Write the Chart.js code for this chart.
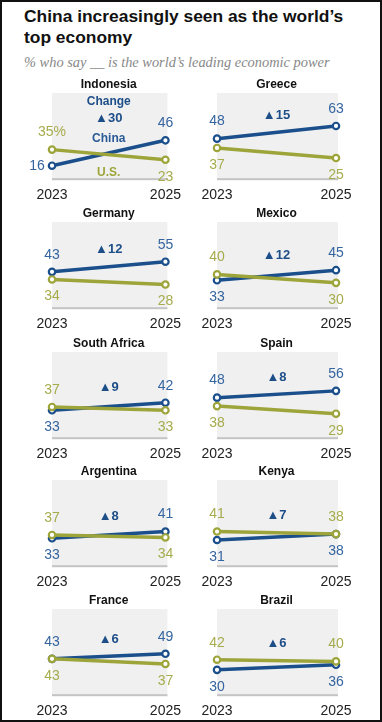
<!DOCTYPE html>
<html>
<head>
<meta charset="utf-8">
<script src="https://cdn.jsdelivr.net/npm/chart.js@4/dist/chart.umd.min.js"></script>
<style>
  html, body { margin: 0; padding: 0; background: #fff; }
  #page { position: relative; width: 382px; height: 722px; box-sizing: border-box; border: 2px solid #111; overflow: hidden; background: #fff; }
  #title { position: absolute; left: 22px; top: 4px; width: 332px; font: bold 17.4px "Liberation Sans", Arial, sans-serif; line-height: 21px; color: #111; }
  #subtitle { position: absolute; left: 22px; top: 52px; font: italic 14.4px "Liberation Serif", Georgia, serif; color: #888; white-space: nowrap; }
  canvas.panel { position: absolute; }
</style>
</head>
<body>
<div id="page">
  <div id="title">China increasingly seen as the world’s top economy</div>
  <div id="subtitle">% who say __ is the world’s leading economic power</div>
</div>
<script>
// ---- data ----
const years = ['2023', '2025'];
const countries = ['Indonesia', 'Greece', 'Germany', 'Mexico', 'South Africa', 'Spain', 'Argentina', 'Kenya', 'France', 'Brazil'];
const china2023 = [16, 48, 43, 33, 33, 48, 33, 31, 43, 30];
const china2025 = [46, 63, 55, 45, 42, 56, 41, 38, 49, 36];
const us2023 = [35, 37, 34, 40, 37, 38, 37, 41, 43, 42];
const us2025 = [23, 25, 28, 30, 33, 29, 34, 38, 37, 40];
const changes = [30, 15, 12, 12, 9, 8, 8, 7, 6, 6];

// ---- style ----
const BLUE = '#1b4f8c', OLIVE = '#9da53a';
const BLUE_TXT = '#3565a0', OLIVE_TXT = '#a6ac4c';
const FONT = '"Liberation Sans", Arial, sans-serif';
const rowTops = [93, 222, 352, 480, 609];
const PANEL_H = 141, TOP_PAD = 22;

const page = document.getElementById('page');

const decor = {
  id: 'decor',
  beforeDatasetsDraw(chart) {
    const { ctx, chartArea: a } = chart;
    ctx.save();
    ctx.fillStyle = '#f0f0f0';
    ctx.fillRect(a.left, a.top, a.right - a.left + 2, a.bottom - a.top);
    ctx.fillStyle = '#c4c4c4';
    ctx.fillRect(a.left, a.bottom - 1, a.right - a.left + 2, 2);
    ctx.restore();
  },
  afterDatasetsDraw(chart) {
    const { ctx, chartArea: a } = chart;
    const i = chart.options.plugins.decor.index;
    const ys = chart.scales.y, xs = chart.scales.x;
    const cx = (a.left + a.right) / 2;
    ctx.save();
    // panel title
    ctx.font = 'bold 12px ' + FONT;
    ctx.fillStyle = '#111';
    ctx.textAlign = 'center';
    ctx.textBaseline = 'middle';
    ctx.fillText(countries[i], cx, a.top - 8);

    // value labels
    const ch = [china2023[i], china2025[i]];
    const us = [us2023[i], us2025[i]];
    const aboveY = [];
    ctx.font = '14px ' + FONT;
    for (let j = 0; j < 2; j++) {
      let chinaAbove;
      if (ch[j] !== us[j]) chinaAbove = ch[j] > us[j];
      else chinaAbove = j === 0 ? ch[1] >= us[1] : ch[0] > us[0];
      const x = xs.getPixelForValue(j);
      const entries = [
        { v: ch[j], above: chinaAbove, color: BLUE_TXT, series: 'china' },
        { v: us[j], above: !chinaAbove, color: OLIVE_TXT, series: 'us' }
      ];
      for (const e of entries) {
        const py = ys.getPixelForValue(e.v);
        let tx = x, ty = e.above ? py - 17 : py + 17;
        let txt = String(e.v);
        if (i === 0 && j === 0 && e.series === 'china') { tx = x - 15; ty = py; }
        if (i === 0 && j === 0 && e.above) txt += '%';
        if (e.above) aboveY.push(ty);
        ctx.fillStyle = e.color;
        ctx.fillText(txt, tx, ty);
      }
    }
    // change label
    let cy = aboveY.reduce((s, v) => s + v, 0) / aboveY.length;
    ctx.fillStyle = '#1d4e88';
    if (i === 0) {
      cy -= 10;
      ctx.font = 'bold 12px ' + FONT;
      ctx.fillText('Change', cx, cy - 16);
    }
    ctx.font = 'bold 13px ' + FONT;
    ctx.fillText('▲' + changes[i], cx, cy);

    // legend labels in first panel
    if (i === 0) {
      ctx.font = 'bold 12px ' + FONT;
      const chMid = ys.getPixelForValue((ch[0] + ch[1]) / 2);
      const usMid = ys.getPixelForValue((us[0] + us[1]) / 2);
      ctx.fillStyle = '#2a5a96';
      ctx.fillText('China', cx, chMid - 14);
      ctx.fillStyle = OLIVE;
      ctx.fillText('U.S.', cx, usMid + 18);
    }
    ctx.restore();
  }
};

countries.forEach((name, i) => {
  const col = i % 2, row = Math.floor(i / 2);
  const cv = document.createElement('canvas');
  cv.className = 'panel';
  cv.width = 189; cv.height = PANEL_H;
  cv.style.width = '189px'; cv.style.height = PANEL_H + 'px';
  cv.style.left = (col === 0 ? -2 : 189) + 'px';
  cv.style.top = (rowTops[row] - TOP_PAD - 2) + 'px';
  page.appendChild(cv);

  const lineDs = (label, data, color) => ({
    label, data,
    borderColor: color, backgroundColor: '#fff',
    borderWidth: 3.5,
    pointRadius: 3.2, pointBorderWidth: 2.2,
    pointBackgroundColor: '#fff', pointBorderColor: color,
    tension: 0
  });

  new Chart(cv, {
    type: 'line',
    data: {
      labels: years,
      datasets: [
        lineDs('U.S.', [us2023[i], us2025[i]], OLIVE),
        lineDs('China', [china2023[i], china2025[i]], BLUE)
      ]
    },
    options: {
      responsive: false,
      animation: false,
      events: [],
      layout: { padding: { top: TOP_PAD, left: col === 0 ? 52 : 26, right: col === 0 ? 19 : 44, bottom: 0 } },
      scales: {
        x: {
          offset: false,
          grid: { display: false, drawTicks: false },
          border: { display: false },
          ticks: { color: '#222', font: { family: FONT, size: 14 }, padding: 8, maxRotation: 0, autoSkip: false }
        },
        y: { display: false, min: 0, max: 102 }
      },
      plugins: {
        legend: { display: false },
        tooltip: { enabled: false },
        title: { display: false },
        decor: { index: i }
      }
    },
    plugins: [decor]
  });
});
</script>
</body>
</html>
